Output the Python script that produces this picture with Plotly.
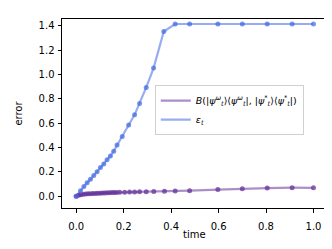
import plotly.graph_objects as go

# Data
time_eps = [0, 0.018, 0.032, 0.046, 0.060, 0.074, 0.088, 0.102, 0.116, 0.130, 0.144,
            0.158, 0.172, 0.194, 0.221, 0.246, 0.267, 0.295, 0.326, 0.369, 0.417,
            0.478, 0.597, 0.700, 0.805, 0.910, 1.0]
eps_t = [0, 0.045, 0.080, 0.110, 0.140, 0.170, 0.200, 0.235, 0.265, 0.300, 0.330,
         0.370, 0.420, 0.490, 0.585, 0.668, 0.761, 0.893, 1.052, 1.352, 1.414,
         1.414, 1.414, 1.414, 1.414, 1.414, 1.414]

time_b = [0, 0.010, 0.020, 0.030, 0.040, 0.050, 0.060, 0.070, 0.080, 0.090, 0.100,
          0.110, 0.120, 0.130, 0.140, 0.150, 0.160, 0.170, 0.183, 0.204, 0.225,
          0.246, 0.267, 0.295, 0.327, 0.372, 0.417, 0.478, 0.597, 0.700, 0.805,
          0.910, 1.0]
bures = [0, 0.008, 0.012, 0.015, 0.017, 0.019, 0.021, 0.022, 0.023, 0.024, 0.025,
         0.026, 0.027, 0.028, 0.029, 0.030, 0.030, 0.031, 0.032, 0.033, 0.034,
         0.035, 0.036, 0.037, 0.038, 0.040, 0.042, 0.045, 0.054, 0.062, 0.067,
         0.070, 0.069]

x_ticks = [0.0, 0.2, 0.4, 0.6, 0.8, 1.0]
y_ticks = [0.0, 0.2, 0.4, 0.6, 0.8, 1.0, 1.2, 1.4]

label_b = ("<i>B</i>(|<i>ψ</i><sup><i>ω</i></sup><sub><i>t</i></sub>⟩⟨<i>ψ</i><sup><i>ω</i></sup><sub><i>t</i></sub>|, "
           "|<i>ψ</i><sup>*</sup><sub><i>t</i></sub>⟩⟨<i>ψ</i><sup>*</sup><sub><i>t</i></sub>|)")
label_eps = "<i>ε</i><sub><i>t</i></sub>"

purple_line = "rgba(102,51,153,0.55)"
purple_mark = "rgba(102,51,153,0.75)"
blue_line = "rgba(65,105,225,0.55)"
blue_mark = "rgba(65,105,225,0.7)"

fig = go.Figure()
fig.add_trace(go.Scatter(
    x=time_b, y=bures, mode="lines", name=label_b,
    line=dict(color=purple_line, width=2.2), showlegend=True))
fig.add_trace(go.Scatter(
    x=time_eps, y=eps_t, mode="lines", name=label_eps,
    line=dict(color=blue_line, width=2.2), showlegend=True))
fig.add_trace(go.Scatter(
    x=time_b, y=bures, mode="markers", showlegend=False,
    marker=dict(color=purple_mark, size=5, line=dict(width=0))))
fig.add_trace(go.Scatter(
    x=time_eps, y=eps_t, mode="markers", showlegend=False,
    marker=dict(color=blue_mark, size=5, line=dict(width=0))))

axis_common = dict(
    showline=True, linecolor="black", linewidth=1, mirror=True,
    ticks="outside", ticklen=3.5, tickwidth=0.8, tickcolor="black",
    showgrid=False, zeroline=False,
    tickfont=dict(family="DejaVu Sans", size=10, color="black"),
)

fig.update_layout(
    width=332, height=249,
    margin=dict(l=54, r=13, t=11, b=49),
    paper_bgcolor="white", plot_bgcolor="white",
    font=dict(family="DejaVu Sans", size=10, color="black"),
    xaxis=dict(range=[-0.06, 1.057], tickvals=x_ticks, tickformat=".1f",
               ticklabelstandoff=5,
               **axis_common),
    yaxis=dict(range=[-0.097, 1.455], tickvals=y_ticks, tickformat=".1f",
               ticklabelstandoff=1,
               title=dict(text="error", standoff=14,
                          font=dict(family="DejaVu Sans", size=10)),
               **axis_common),
    legend=dict(x=0.35, y=0.65, xanchor="left", yanchor="top",
                bgcolor="rgba(255,255,255,0.8)", bordercolor="#d0d0d0",
                borderwidth=1, font=dict(family="DejaVu Sans", size=9.5),
                tracegroupgap=0, itemwidth=30),
    showlegend=True,
    annotations=[dict(text="time", xref="paper", yref="paper", x=0.5, y=-0.138,
                      xanchor="center", yanchor="middle", showarrow=False,
                      font=dict(family="DejaVu Sans", size=10, color="black"))],
)

fig.write_html("out.html")
